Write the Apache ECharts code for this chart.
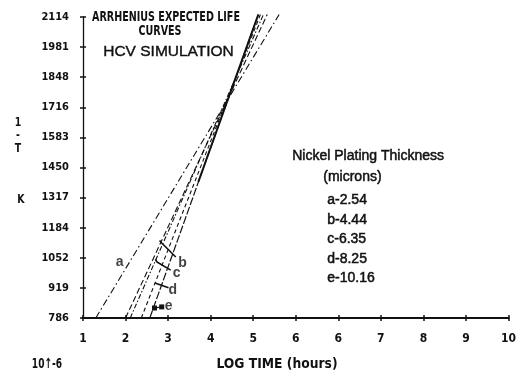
<!DOCTYPE html>
<html><head><meta charset="utf-8">
<script src="https://cdn.jsdelivr.net/npm/echarts@6/dist/echarts.min.js"></script>
<style>html,body{margin:0;padding:0;background:#fff}#c{width:519px;height:381px}</style>
</head><body><div id="c"></div>
<script>
// ---- data ----
const xTickLabels = ['1','2','3','4','5','6','6','7','8','9','10'];
const yTickLabels = ['786','919','1052','1184','1317','1450','1583','1716','1848','1981','2114'];
// lines: [log time, 1/T value]
const lineA = [[1.30, 786], [5.61, 2125]];
const lineB = [[2.00, 786], [5.33, 2125]];
const lineC = [[2.11, 786], [5.24, 2125]];
const lineD = [[2.37, 786], [5.17, 2125]];
const lineE = [[2.57, 786], [5.12, 2125]];
const lineESolid = [[3.71, 1386], [5.12, 2125]];
const leaderB = [[2.80, 1128], [2.85, 1117], [3.18, 1055]];
const leaderC = [[2.70, 1045], [2.74, 1033], [3.06, 997]];
const leaderD = [[2.69, 940], [3.01, 919]];
const leaderE = [[2.85, 835], [2.68, 830]];
const lineLabels = ['a', 'b', 'c', 'd', 'e'];
const lineLabelPos = [[1.86, 1033], [3.34, 1029], [3.20, 985], [3.11, 910], [3.01, 839]];
const legendTitle = 'Nickel Plating Thickness';
const legendUnit = '(microns)';
const legendItems = ['a-2.54', 'b-4.44', 'c-6.35', 'd-8.25', 'e-10.16'];

// ---- scale helper (y tick labels are evenly spaced) ----
const yMin = Number(yTickLabels[0]);
const yStep = (Number(yTickLabels[yTickLabels.length - 1]) - yMin) / (yTickLabels.length - 1);
const toY = v => (v - yMin) / yStep;
const conv = arr => arr.map(p => [p[0], toY(p[1])]);

const INK = '#111';
const narrow = '"DejaVu Sans Condensed", "DejaVu Sans", sans-serif';
const sans = '"Liberation Sans", Arial, sans-serif';

function lineSeries(data, type, width) {
  return {
    type: 'line', data: conv(data), symbol: 'none', clip: false, silent: true,
    lineStyle: { color: INK, width: width || 1.2, type: type }, z: 3
  };
}

const chart = echarts.init(document.getElementById('c'), null, { renderer: 'canvas' });

const xAxisBase = { type: 'value', min: 1, max: 11, interval: 1, splitLine: { show: false } };
const yAxisBase = { type: 'value', min: 0, max: 10, interval: 1, splitLine: { show: false } };

function squeezed(text, cx, top, size, sx) {
  return {
    type: 'text', x: cx, y: top, scaleX: sx, scaleY: 1,
    style: { text: text, font: 'bold ' + size + 'px ' + narrow, fill: INK, align: 'center' }
  };
}

const legendGraphics = [
  { type: 'text', left: 292, top: 149, style: { text: legendTitle, font: '14px ' + sans, fill: INK, stroke: INK, lineWidth: 0.5 } },
  { type: 'text', left: 323, top: 170, style: { text: legendUnit, font: '14px ' + sans, fill: INK, stroke: INK, lineWidth: 0.5 } }
];
legendItems.forEach((t, i) => {
  legendGraphics.push({ type: 'text', left: 327, top: 193 + i * 19.5, style: { text: t, font: '14px ' + sans, fill: INK, stroke: INK, lineWidth: 0.5 } });
});

chart.setOption({
  animation: false,
  grid: { left: 83, right: 4, top: 17, bottom: 63 },
  xAxis: [
    Object.assign({}, xAxisBase, {
      axisLine: { lineStyle: { color: INK, width: 2 } },
      axisTick: { show: true, length: 3, lineStyle: { color: INK, width: 1.5 } },
      axisLabel: {
        margin: 15, color: INK, fontFamily: narrow, fontWeight: 'bold', fontSize: 12,
        formatter: v => xTickLabels[Math.round(v - 1)] || ''
      }
    }),
    Object.assign({}, xAxisBase, {
      position: 'bottom',
      axisLine: { show: false },
      axisTick: { show: true, inside: true, length: 3, lineStyle: { color: INK, width: 1.5 } },
      axisLabel: { show: false }
    })
  ],
  yAxis: [
    Object.assign({}, yAxisBase, {
      axisLine: { show: true, lineStyle: { color: INK, width: 1.3 } },
      axisTick: { show: true, length: 3, lineStyle: { color: INK, width: 1.5 } },
      axisLabel: {
        margin: 14, color: INK, fontFamily: narrow, fontWeight: 'bold', fontSize: 11,
        formatter: v => yTickLabels[Math.round(v)] || ''
      }
    }),
    Object.assign({}, yAxisBase, {
      position: 'left',
      axisLine: { show: false },
      axisTick: { show: true, inside: true, length: 3, lineStyle: { color: INK, width: 1.5 } },
      axisLabel: { show: false }
    })
  ],
  series: [
    lineSeries(lineA, [7, 3, 1.5, 3], 1.1),
    lineSeries(lineB, [6, 3], 1.1),
    lineSeries(lineC, [5, 2, 1.5, 2], 1.1),
    lineSeries(lineD, [4, 3], 1.1),
    lineSeries(lineE, [8, 2], 1.2),
    lineSeries(lineESolid, 'solid', 2),
    lineSeries(leaderB, 'solid', 1.6),
    lineSeries(leaderC, 'solid', 1.6),
    lineSeries(leaderD, 'solid', 1.6),
    {
      type: 'line', data: conv(leaderE), symbol: ['none', 'arrow'], symbolSize: [5, 5], silent: true,
      lineStyle: { color: INK, width: 1.2 }, itemStyle: { color: INK }, z: 3
    },
    {
      type: 'scatter', silent: true, symbolSize: 0,
      data: lineLabels.map((t, i) => ({ name: t, value: [lineLabelPos[i][0], toY(lineLabelPos[i][1])] })),
      label: {
        show: true, position: 'inside', formatter: p => p.name,
        color: INK, fontFamily: sans, fontWeight: 'bold', fontSize: 14
      }
    }
  ],
  graphic: [
    squeezed('ARRHENIUS EXPECTED LIFE', 166, 10, 14, 0.76),
    squeezed('CURVES', 160, 24, 14, 0.76),
    { type: 'text', left: 103, top: 44, style: { text: 'HCV SIMULATION', font: '15.5px ' + sans, fill: INK, stroke: INK, lineWidth: 0.4 } },
    squeezed('1', 18, 116, 13, 0.8),
    squeezed('-', 18, 129, 13, 0.8),
    squeezed('T', 18, 142, 13, 0.8),
    squeezed('K', 21, 193, 13, 0.8),
    squeezed('10↑-6', 47, 357, 14, 0.72),
    squeezed('LOG TIME (hours)', 277, 357, 14, 0.98)
  ].concat(legendGraphics)
});
</script></body></html>
